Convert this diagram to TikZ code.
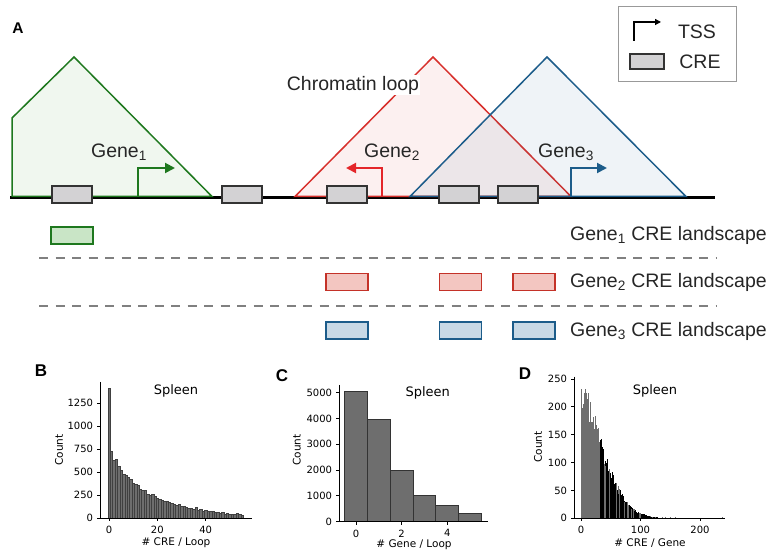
\documentclass[tikz,border=0pt]{standalone}
\usepackage{fontspec}
\setmainfont{Liberation Sans}
\newfontfamily\plotfont{DejaVu Sans}
\usetikzlibrary{arrows.meta}
\definecolor{genegreen}{RGB}{30,120,30}
\definecolor{greenfill}{RGB}{240,247,239}
\definecolor{greenland}{RGB}{201,229,198}
\definecolor{genered}{RGB}{215,48,44}
\definecolor{tssred}{RGB}{228,38,42}
\definecolor{redland}{RGB}{243,198,193}
\definecolor{redline}{RGB}{196,50,40}
\definecolor{geneblue}{RGB}{28,92,138}
\definecolor{blueland}{RGB}{200,217,230}
\definecolor{crefill}{RGB}{211,210,212}
\definecolor{barfill}{RGB}{110,110,110}

\begin{document}
\begin{tikzpicture}[
  x=1pt, y=-1pt,
  lbl/.style={font=\fontsize{19.5}{22}\selectfont, text=black!85, inner sep=1pt},
  panel/.style={font=\fontsize{17}{20}\selectfont\bfseries},
  crebox/.style={draw=black!80, fill=crefill, line width=1.4pt, minimum width=40pt, minimum height=17pt, inner sep=0pt},
  landbox/.style={line width=1.4pt, minimum width=42pt, minimum height=17pt, inner sep=0pt},
  tss/.style={line width=2pt, -{Triangle[length=10pt,width=10pt]}},
  sepline/.style={gray, line width=1.2pt, dash pattern=on 9pt off 7.5pt},
  tick/.style={font=\plotfont\fontsize{10}{12}\selectfont, inner sep=1.5pt},
  axlabel/.style={font=\plotfont\fontsize{10.5}{12}\selectfont},
  plottitle/.style={font=\plotfont\fontsize{13}{15}\selectfont},
  bar/.style={fill=barfill, draw=black!75, line width=0.4pt},
  axis/.style={line width=0.9pt}
]
\useasboundingbox (0,0) rectangle (777,553);

% panel A: loops on the chromosome
\node[panel, font=\fontsize{15.5}{18}\selectfont\bfseries] (labA) at (18,28) {A};
\draw[line width=3pt] (10,198) -- (715,198);
\filldraw[draw=genegreen, fill=greenfill, line width=1.5pt] (12,196.5) -- (12,118) -- (74,57) -- (212,196.5) -- cycle;
\filldraw[draw=genered, fill=genered, fill opacity=0.07, line width=1.5pt] (295,196.5) -- (433,57) -- (571,196.5) -- cycle;
\filldraw[draw=geneblue, fill=geneblue, fill opacity=0.07, line width=1.5pt] (410,196.5) -- (547,57) -- (686,196.5) -- cycle;
\node[lbl, fill=white] (loop) at (353,85) {Chromatin loop};

\node[crebox] (cre1) at (72,194.5) {};
\node[crebox] (cre2) at (242,194.5) {};
\node[crebox] (cre3) at (347,194.5) {};
\node[crebox] (cre4) at (459,194.5) {};
\node[crebox] (cre5) at (518,194.5) {};

\draw[tss, genegreen] (138,196) -- (138,168) -- (175,168);
\draw[tss, tssred] (382,196) -- (382,168) -- (346,168);
\draw[tss, geneblue] (571,196) -- (571,168) -- (607,168);
\node[lbl] (gene1) at (119,152) {Gene\textsubscript{1}};
\node[lbl] (gene2) at (392,152) {Gene\textsubscript{2}};
\node[lbl] (gene3) at (566,152) {Gene\textsubscript{3}};

% legend
\node[draw=gray!80, line width=1pt, minimum width=118pt, minimum height=75pt] (legend) at (677,44.5) {};
\draw[line width=1.3pt, -{Triangle[length=6pt,width=6pt]}] (634,41) -- (634,22) -- (661,22);
\node[lbl] (tsslbl) at (697,32) {TSS};
\node[crebox, minimum width=34pt, minimum height=15pt] (crekey) at (647,61.5) {};
\node[lbl] (crelbl) at (700,62) {CRE};

% CRE landscapes
\node[landbox, draw=genegreen, fill=greenland] (l1a) at (72,235.5) {};
\node[lbl, anchor=east] (land1) at (768,235) {Gene\textsubscript{1} CRE landscape};
\draw[sepline] (39,258) -- (717,258);
\node[landbox, draw=redline, fill=redland] (l2a) at (347,282) {};
\node[landbox, draw=redline, fill=redland] (l2b) at (460.5,282) {};
\node[landbox, draw=redline, fill=redland] (l2c) at (534,282) {};
\node[lbl, anchor=east] (land2) at (768,282) {Gene\textsubscript{2} CRE landscape};
\draw[sepline] (39,306) -- (717,306);
\node[landbox, draw=geneblue, fill=blueland] (l3a) at (347,330.5) {};
\node[landbox, draw=geneblue, fill=blueland] (l3b) at (460.5,330.5) {};
\node[landbox, draw=geneblue, fill=blueland] (l3c) at (534,330.5) {};
\node[lbl, anchor=east] (land3) at (768,331) {Gene\textsubscript{3} CRE landscape};

% panel B: CRE per loop
\node[panel] (labB) at (41,371) {B};
\foreach \c [count=\i from 0] in {1412,730,632,643,566,523,479,461,440,420,375,368,355,318,308,298,262,250,258,238,212,205,198,186,178,170,162,150,140,148,133,125,118,110,108,95,118,85,92,72,80,76,78,70,64,66,56,60,46,50,42,46,40,50,40,34}
  \draw[bar] ({109+2.417*(\i-0.5)},518) rectangle ({109+2.417*(\i+0.5)},{518-0.0918*\c});
\draw[axis] (100,382) -- (100,518) -- (252,518);
\foreach \t in {0,250,...,1250}
  \draw[axis] (100,{518-0.0918*\t}) -- (97,{518-0.0918*\t}) node[tick, left=2pt] {\t};
\foreach \t in {0,20,40}
  \draw[axis] ({109+2.417*\t},518) -- ({109+2.417*\t},521) node[tick, below=3pt] {\t};
\node[plottitle] (titB) at (176,391) {Spleen};
\node[axlabel, rotate=90] (yB) at (59,450) {Count};
\node[axlabel] (xB) at (176,543) {\# CRE / Loop};

% panel C: genes per loop
\node[panel] (labC) at (282,376) {C};
\foreach \c [count=\i from 0] in {5040,3970,1975,1020,630,325}
  \draw[fill=barfill, draw=black!80, line width=0.8pt] ({356+22.8*(\i-0.5)},521.7) rectangle ({356+22.8*(\i+0.5)},{521.7-0.0258*\c});
\draw[axis] (339,385) -- (339,521.7) -- (488,521.7);
\foreach \t in {0,1000,...,5000}
  \draw[axis] (339,{521.7-0.0258*\t}) -- (336,{521.7-0.0258*\t}) node[tick, left=2pt] {\t};
\foreach \t in {0,2,4}
  \draw[axis] ({356+22.8*\t},521.7) -- ({356+22.8*\t},524.7) node[tick, below=3pt] {\t};
\node[plottitle] (titC) at (427.7,393) {Spleen};
\node[axlabel, rotate=90] (yC) at (296.7,450) {Count};
\node[axlabel] (xC) at (414,545) {\# Gene / Loop};

% panel D: CRE per gene
\node[panel] (labD) at (525,374) {D};
\pgfmathsetseed{11}
\foreach \v in {0,...,132}{
  \pgfmathsetmacro\h{235*exp(-((\v+0.01)/50)^1.7)*(0.8+0.28*rnd)}
  \pgfmathtruncatemacro\dark{and(\v>31,rnd<0.7)}
  \ifnum\dark=1 \def\barcol{black}\else\def\barcol{barfill}\fi
  \fill[fill=\barcol] ({581+0.595*\v-0.3},518.3) rectangle ({581+0.595*\v+0.3},{518.3-0.557*\h});
}
\foreach \v in {136,142,150,158,238}
  \fill[barfill] ({581+0.595*\v-0.3},518.3) rectangle ({581+0.595*\v+0.3},516.6);
\draw[axis] (574,376.7) -- (574,518.3) -- (725,518.3);
\foreach \t in {0,50,...,250}
  \draw[axis] (574,{518.3-0.557*\t}) -- (571,{518.3-0.557*\t}) node[tick, left=2pt] {\t};
\foreach \t in {0,100,200}
  \draw[axis] ({581+0.595*\t},518.3) -- ({581+0.595*\t},521.3) node[tick, below=3pt] {\t};
\node[plottitle] (titD) at (655,391) {Spleen};
\node[axlabel, rotate=90] (yD) at (538,447) {Count};
\node[axlabel] (xD) at (650,543) {\# CRE / Gene};
\end{tikzpicture}
\end{document}
